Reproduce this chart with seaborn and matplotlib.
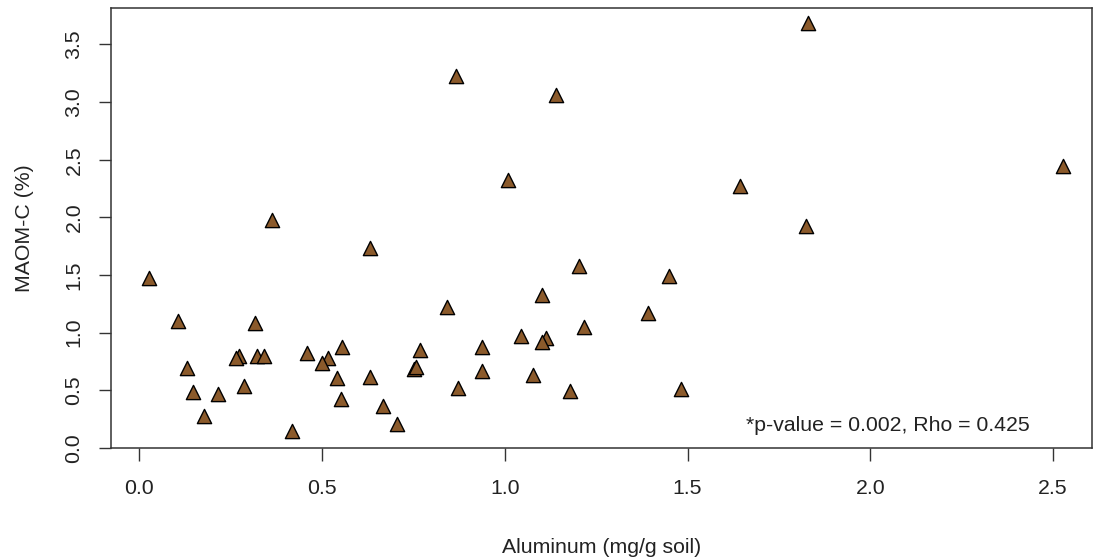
import matplotlib
matplotlib.use("Agg")
import matplotlib.pyplot as plt
import seaborn as sns
import pandas as pd

# aluminum (mg/g soil) vs MAOM-C (%)
aluminum = [0.866, 0.364, 0.631, 0.027, 0.842, 0.105, 0.316, 0.555, 0.768, 0.938,
            0.272, 0.266, 0.323, 0.342, 0.460, 0.517, 0.499, 0.751, 0.757, 0.938,
            0.131, 0.540, 0.631, 0.146, 0.215, 0.286, 0.873, 0.551, 0.667, 0.178,
            0.704, 0.418, 1.140, 1.009, 1.643, 1.203, 1.448, 1.103, 1.392, 1.216,
            1.045, 1.112, 1.101, 1.076, 1.179, 1.482, 1.830, 2.526, 1.823]
maom_c = [3.226, 1.978, 1.733, 1.473, 1.227, 1.103, 1.083, 0.875, 0.852, 0.872,
          0.800, 0.780, 0.794, 0.794, 0.823, 0.780, 0.737, 0.685, 0.700, 0.670,
          0.693, 0.607, 0.615, 0.482, 0.470, 0.534, 0.520, 0.425, 0.367, 0.280,
          0.210, 0.150, 3.061, 2.325, 2.276, 1.582, 1.493, 1.328, 1.175, 1.045,
          0.973, 0.953, 0.915, 0.629, 0.490, 0.514, 3.683, 2.449, 1.929]
x_ticks = [0.0, 0.5, 1.0, 1.5, 2.0, 2.5]
y_ticks = [0.0, 0.5, 1.0, 1.5, 2.0, 2.5, 3.0, 3.5]
stats_text = "*p-value = 0.002, Rho = 0.425"

df = pd.DataFrame({"aluminum": aluminum, "maom_c": maom_c})

sns.set_style("white")
plt.rcParams["font.family"] = ["Liberation Sans", "DejaVu Sans"]
fs = 15.3
txt_col = "#222222"

fig = plt.figure(figsize=(10.94, 5.59), dpi=100)
ax = fig.add_axes([0.1017, 0.198, 0.8963, 0.787])

sns.scatterplot(data=df, x="aluminum", y="maom_c", ax=ax, marker="^", s=105,
                color="#8B5A2B", edgecolor="black", linewidth=1.0, legend=False)

ax.set_xlim(-0.0766, 2.606)
ax.set_ylim(-0.003, 3.813)
ax.set_xticks(x_ticks)
ax.set_yticks(y_ticks)
ax.set_xticklabels([f"{v:.1f}" for v in x_ticks])
ax.set_yticklabels([f"{v:.1f}" for v in y_ticks], rotation=90, va="center")

for sp in ax.spines.values():
    sp.set_visible(True)
    sp.set_color("#333333")
    sp.set_linewidth(1.1)

ax.tick_params(axis="both", direction="out", length=9, width=1.0, color="#333333",
               labelsize=fs, labelcolor=txt_col, bottom=True, left=True)
ax.tick_params(axis="x", pad=13)
ax.tick_params(axis="y", pad=11)

ax.set_xlabel("Aluminum (mg/g soil)", fontsize=fs, color=txt_col, labelpad=29)
ax.set_ylabel("MAOM-C (%)", fontsize=fs, color=txt_col, labelpad=22)

ax.text(1.659, 0.144, stats_text, fontsize=fs, color=txt_col, va="baseline", ha="left")

fig.savefig("out.png", dpi=100)
